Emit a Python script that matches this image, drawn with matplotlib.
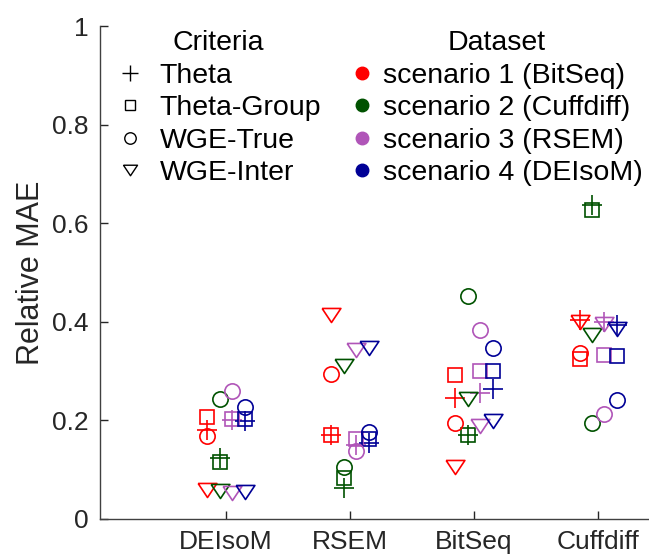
import matplotlib
matplotlib.use("Agg")
import matplotlib.pyplot as plt
from matplotlib.lines import Line2D
import numpy as np

plt.rcParams['font.family'] = ['Liberation Sans', 'DejaVu Sans']

methods = ["DEIsoM", "RSEM", "BitSeq", "Cuffdiff"]
datasets = ["scenario 1 (BitSeq)", "scenario 2 (Cuffdiff)", "scenario 3 (RSEM)", "scenario 4 (DEIsoM)"]
criteria = ["Theta", "Theta-Group", "WGE-True", "WGE-Inter"]
colors = ["#ff0000", "#005200", "#b055b8", "#000096"]

# values[criterion][dataset] -> list over methods (DEIsoM, RSEM, BitSeq, Cuffdiff)
theta = [
    [0.181, 0.170, 0.246, 0.403],   # scenario 1
    [0.123, 0.062, 0.171, 0.637],   # scenario 2
    [0.200, 0.151, 0.256, 0.400],   # scenario 3
    [0.199, 0.155, 0.264, 0.393],   # scenario 4
]
theta_group = [
    [0.206, 0.170, 0.293, 0.324],
    [0.115, 0.083, 0.171, 0.627],
    [0.202, 0.162, 0.301, 0.333],
    [0.202, 0.162, 0.301, 0.330],
]
wge_true = [
    [0.168, 0.295, 0.194, 0.337],
    [0.244, 0.105, 0.452, 0.195],
    [0.259, 0.138, 0.383, 0.213],
    [0.228, 0.176, 0.346, 0.242],
]
wge_inter = [
    [0.059, 0.413, 0.106, 0.400],
    [0.056, 0.310, 0.244, 0.373],
    [0.052, 0.342, 0.188, 0.396],
    [0.054, 0.346, 0.198, 0.386],
]
values = [theta, theta_group, wge_true, wge_inter]

tri_down = [(-1, 0.75), (1, 0.75), (0, -0.75), (-1, 0.75)]
markers = ['+', 's', 'o', tri_down]
msizes = [14.5, 9.5, 11, 13.5]
offsets = [-0.15, -0.05, 0.05, 0.15]

W, H = 649, 556
fig = plt.figure(figsize=(W / 100, H / 100), dpi=100)
ax = fig.add_axes([100 / W, 37 / H, (W - 100) / W + 0.01, (519 - 26) / H])

x = np.arange(1, len(methods) + 1)
for ci, crit in enumerate(values):
    for di, series in enumerate(crit):
        ax.plot(x + offsets[di], series, linestyle='none', marker=markers[ci],
                ms=msizes[ci], mfc='none', mec=colors[di], mew=1.2)

ax.set_xlim(-0.016, 4.41 + 0.01 * W / 124)
ax.set_ylim(0, 1)
ax.set_xticks(x)
ax.set_xticklabels(methods)
ax.set_yticks([0, 0.2, 0.4, 0.6, 0.8, 1])
ax.set_yticklabels(['0', '0.2', '0.4', '0.6', '0.8', '1'])
ax.tick_params(direction='in', length=6, width=1, colors='#262626', labelsize=19, pad=8)
for s in ['top', 'right']:
    ax.spines[s].set_visible(False)
for s in ['left', 'bottom']:
    ax.spines[s].set_color('#404040')
    ax.spines[s].set_linewidth(1.0)
ax.set_ylabel('Relative MAE', fontsize=22, color='#262626', labelpad=4.5)

LF = 20.5
crit_handles = [Line2D([], [], linestyle='none', marker=m, ms=s * 0.75, mfc='none',
                       mec='black', mew=1.0) for m, s in zip(markers, msizes)]
leg1 = ax.legend(crit_handles, criteria, title='Criteria', loc='upper left',
                 bbox_to_anchor=(115.5 / W, 1 - 30 / H), bbox_transform=fig.transFigure,
                 frameon=False, fontsize=LF, title_fontsize=LF, handlelength=1.0,
                 handletextpad=0.55, labelspacing=0.23, borderpad=0, borderaxespad=0)
ax.add_artist(leg1)
data_handles = [Line2D([], [], linestyle='none', marker='o', ms=9, mfc=c, mec=c)
                for c in colors]
leg2 = ax.legend(data_handles, datasets, title='Dataset', loc='upper left',
                 bbox_to_anchor=(350.5 / W, 1 - 30 / H), bbox_transform=fig.transFigure,
                 frameon=False, fontsize=LF, title_fontsize=LF, handlelength=0.8,
                 handletextpad=0.34, labelspacing=0.23, borderpad=0, borderaxespad=0)

fig.savefig('out.png', dpi=100)
